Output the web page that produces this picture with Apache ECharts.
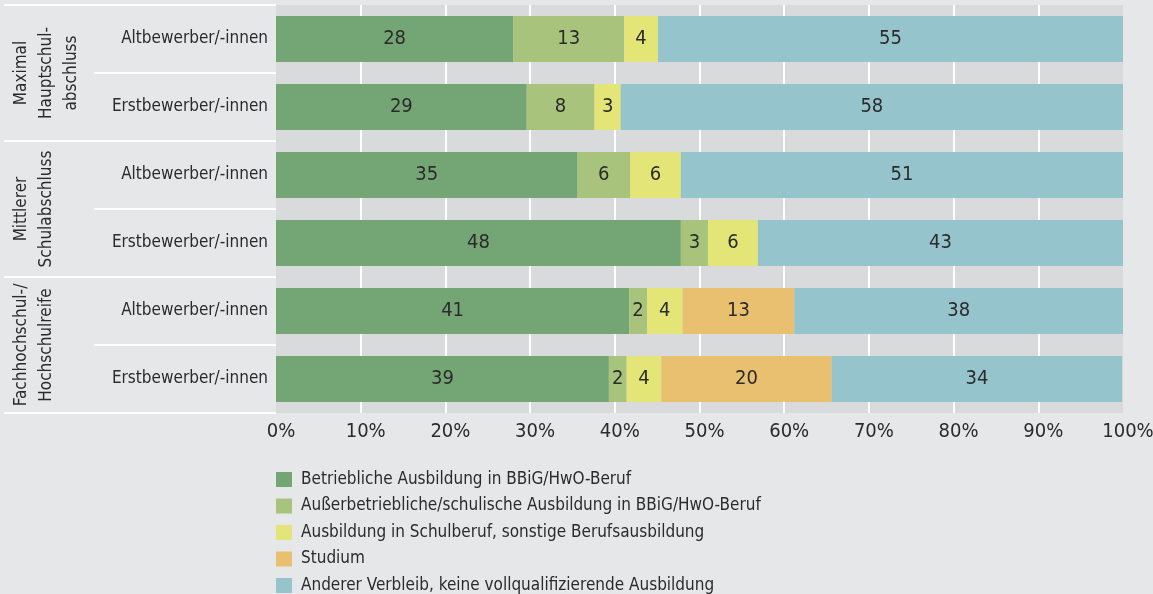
<!DOCTYPE html>
<html>
<head>
<meta charset="utf-8">
<script src="https://cdn.jsdelivr.net/npm/echarts@6/dist/echarts.min.js"></script>
<style>
html, body { margin: 0; padding: 0; background: #e6e7e9; }
#chart { width: 1153px; height: 594px; }
</style>
</head>
<body>
<div id="chart"></div>
<script>
// rows top to bottom
let rows = ["Altbewerber/-innen", "Erstbewerber/-innen", "Altbewerber/-innen", "Erstbewerber/-innen", "Altbewerber/-innen", "Erstbewerber/-innen"];
let groups = ["Maximal\nHauptschul-\nabschluss", "Mittlerer\nSchulabschluss", "Fachhochschul-/\nHochschulreife"];
let ticks = ["0%", "10%", "20%", "30%", "40%", "50%", "60%", "70%", "80%", "90%", "100%"];

// bar lengths (share in %)
let betrieblich = [28.0, 29.6, 35.6, 47.8, 41.7, 39.3];
let ausserbetrieblich = [13.1, 8.0, 6.2, 3.2, 2.1, 2.1];
let schulberuf = [4.0, 3.1, 6.0, 5.9, 4.2, 4.1];
let studium = [null, null, null, null, 13.2, 20.1];
let anderer = [54.9, 59.3, 52.2, 43.1, 38.8, 34.3];

// printed numbers in the bars
let betrieblichLabels = [28, 29, 35, 48, 41, 39];
let ausserbetrieblichLabels = [13, 8, 6, 3, 2, 2];
let schulberufLabels = [4, 3, 6, 6, 4, 4];
let studiumLabels = [null, null, null, null, 13, 20];
let andererLabels = [55, 58, 51, 43, 38, 34];

let font = '"Liberation Sans Narrow", "DejaVu Sans Condensed", sans-serif';
let ink = "#2b2b2b";

let chart = echarts.init(document.getElementById("chart"));

function makeSeries(name, values, labels, color) {
	return {
		name: name,
		type: "bar",
		stack: "all",
		barWidth: 46,
		data: values,
		itemStyle: {color: color},
		emphasis: {disabled: true},
		label: {
			show: true,
			position: "inside",
			color: ink,
			fontFamily: font,
			fontSize: 20,
			formatter: p => labels[p.dataIndex] == null ? "" : String(labels[p.dataIndex])
		}
	};
}

chart.setOption({
	backgroundColor: "#e6e7e9",
	animation: false,
	textStyle: {fontFamily: font},
	grid: {
		left: 276, top: 5, width: 847, height: 408,
		outerBoundsMode: "none",
		show: true, backgroundColor: "#d9dadc", borderWidth: 0
	},
	legend: {
		orient: "vertical",
		left: 276,
		top: 466,
		height: 130,
		padding: [5, 5, 0, 0],
		icon: "rect",
		itemWidth: 16,
		itemHeight: 15,
		itemGap: 9.5,
		selectedMode: false,
		textStyle: {fontFamily: font, fontSize: 17, color: ink, padding: [0, 0, 0, 4]}
	},
	xAxis: {
		type: "value",
		min: 0,
		max: 100,
		interval: 10,
		axisLine: {show: false},
		axisTick: {show: false},
		splitLine: {show: true, showMinLine: false, showMaxLine: false, lineStyle: {color: "#ffffff", width: 2}},
		axisLabel: {
			color: ink,
			fontFamily: font,
			fontSize: 20,
			margin: 9,
			padding: [0, 0, 0, 10],
			formatter: v => ticks[Math.round(v / 10)]
		}
	},
	yAxis: [{
		type: "category",
		inverse: true,
		data: rows,
		axisLine: {show: false},
		axisTick: {show: true, length: 182, lineStyle: {color: "#ffffff", width: 2}},
		splitLine: {show: false},
		axisLabel: {color: ink, fontFamily: font, fontSize: 17, margin: 8}
	}, {
		type: "category",
		inverse: true,
		position: "left",
		offset: 182,
		data: groups,
		axisLine: {show: false},
		axisTick: {show: true, length: 90, lineStyle: {color: "#ffffff", width: 2}},
		splitLine: {show: false},
		axisLabel: {
			interval: 0,
			color: ink,
			fontFamily: font,
			fontSize: 17,
			lineHeight: 25,
			rotate: 90,
			align: "center",
			verticalAlign: "top",
			margin: 85
		}
	}],
	series: [
		makeSeries("Betriebliche Ausbildung in BBiG/HwO-Beruf", betrieblich, betrieblichLabels, "#74a574"),
		makeSeries("Außerbetriebliche/schulische Ausbildung in BBiG/HwO-Beruf", ausserbetrieblich, ausserbetrieblichLabels, "#a8c47c"),
		makeSeries("Ausbildung in Schulberuf, sonstige Berufsausbildung", schulberuf, schulberufLabels, "#e3e577"),
		makeSeries("Studium", studium, studiumLabels, "#e8c070"),
		makeSeries("Anderer Verbleib, keine vollqualifizierende Ausbildung", anderer, andererLabels, "#96c4cc")
	]
});
</script>
</body>
</html>
